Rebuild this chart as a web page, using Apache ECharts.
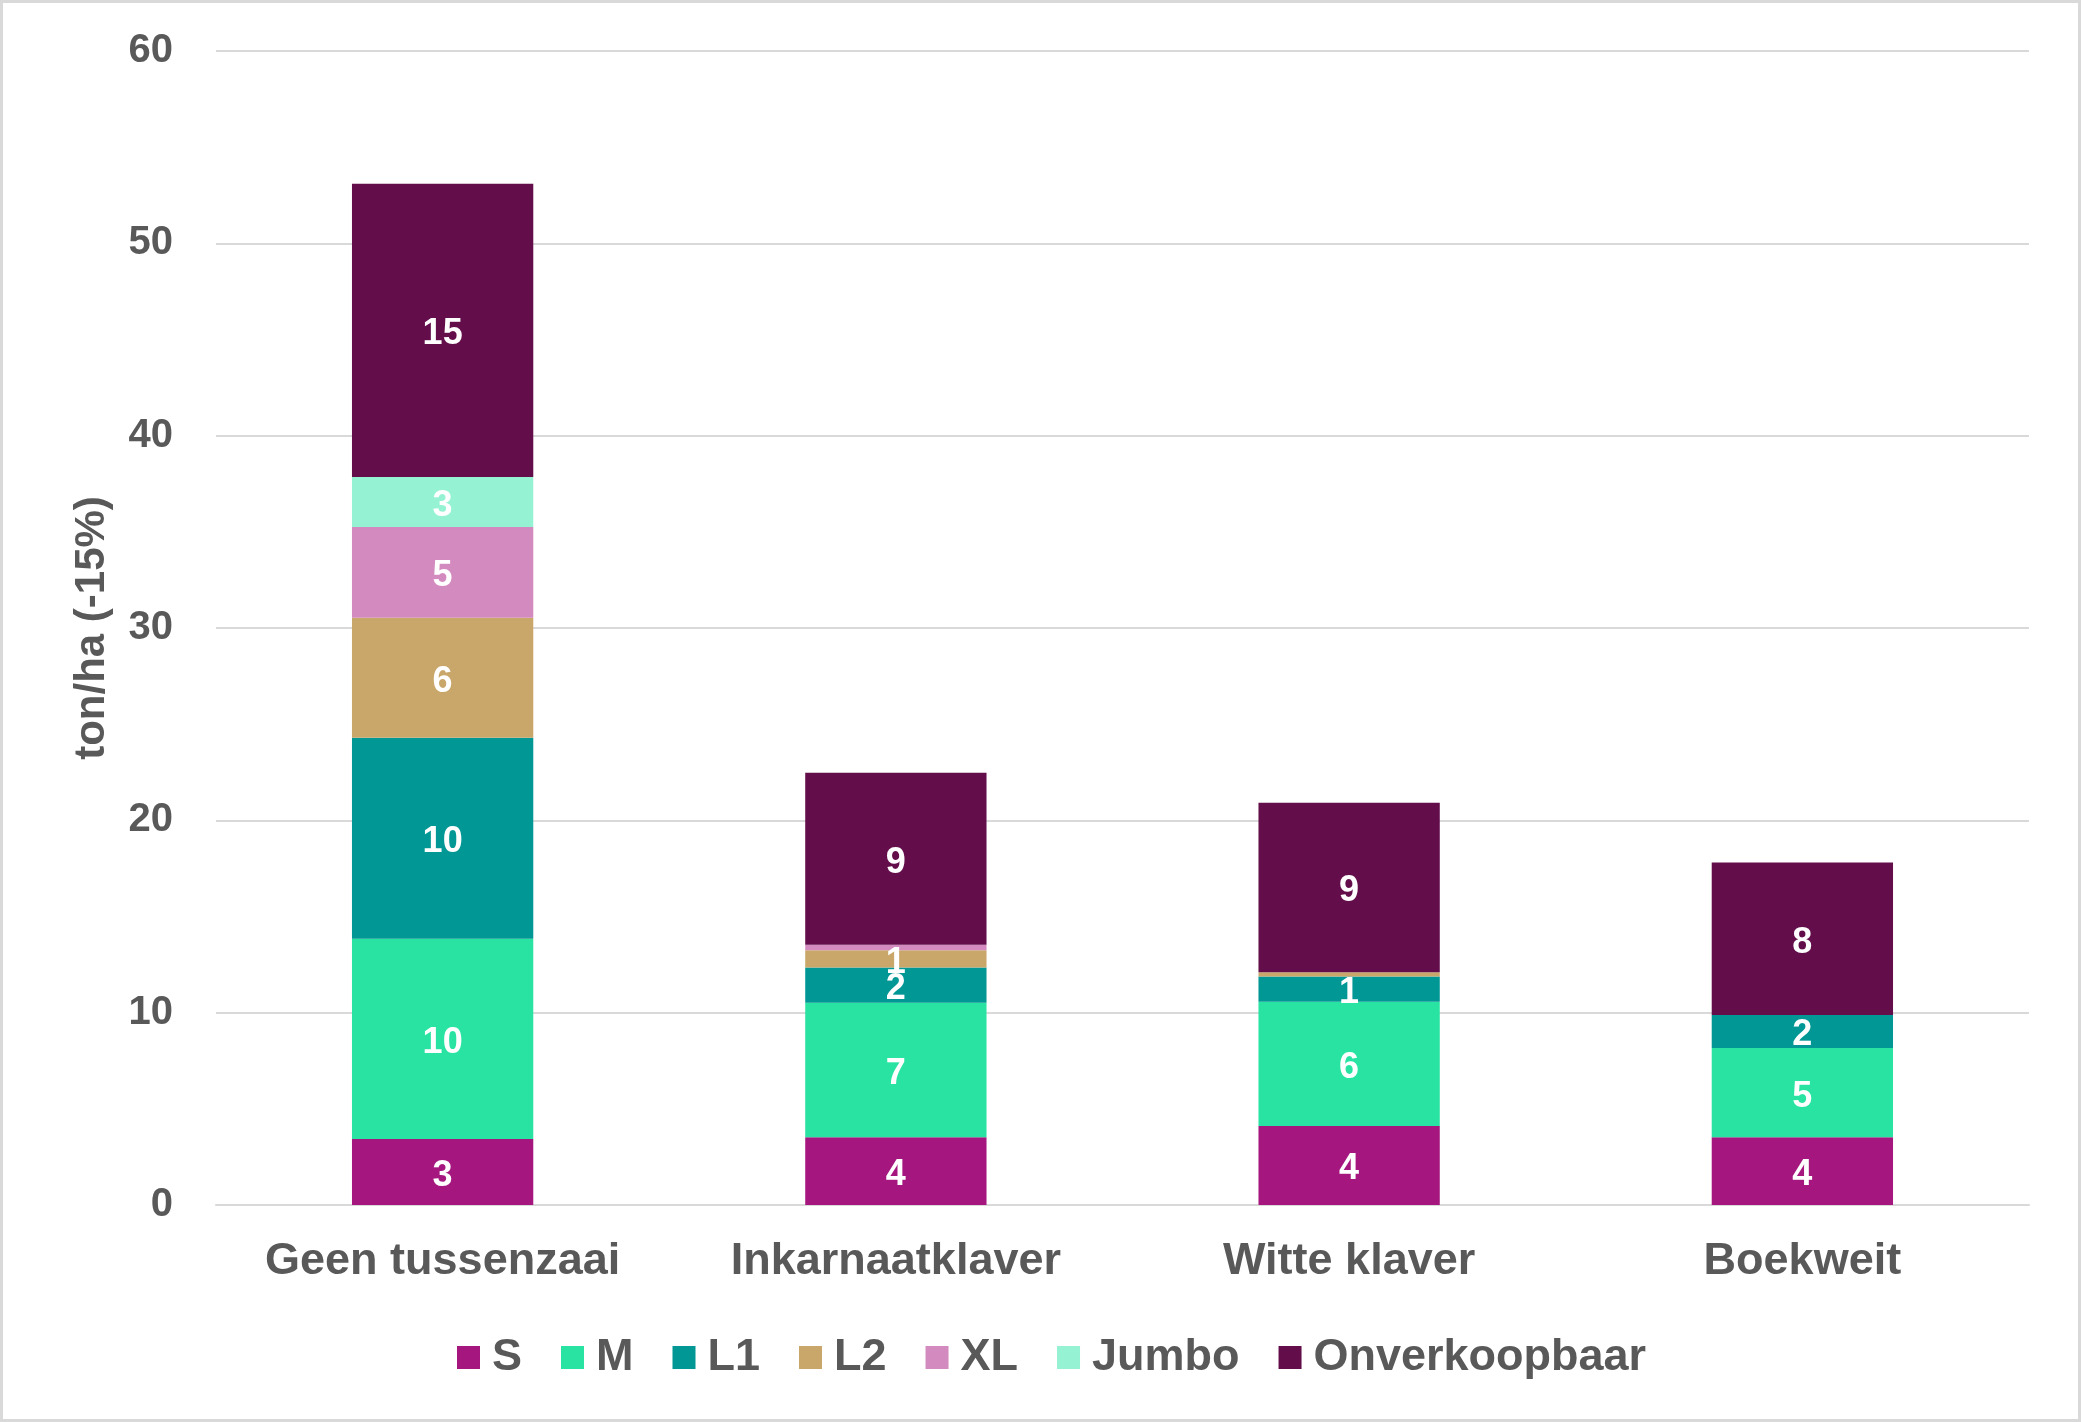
<!DOCTYPE html>
<html>
<head>
<meta charset="utf-8">
<script src="https://cdn.jsdelivr.net/npm/echarts@6/dist/echarts.min.js"></script>
<style>
html,body{margin:0;padding:0;background:#fff;}
#wrap{position:relative;width:2081px;height:1422px;}
#chart{position:absolute;left:0;top:0;width:2081px;height:1422px;}
#frame{position:absolute;left:0;top:0;width:2081px;height:1422px;box-sizing:border-box;border:3px solid #d9d9d9;pointer-events:none;}
</style>
</head>
<body>
<div id="wrap"><div id="chart"></div><div id="frame"></div></div>
<script>
const categories = ['Geen tussenzaai', 'Inkarnaatklaver', 'Witte klaver', 'Boekweit'];
const seriesNames = ['S', 'M', 'L1', 'L2', 'XL', 'Jumbo', 'Onverkoopbaar'];
const S      = [3.43, 3.52, 4.11, 3.52];
const M      = [10.41, 6.99, 6.46, 4.64];
const L1     = [10.46, 1.84, 1.31, 1.72];
const L2     = [6.23, 0.89, 0.22, 0];
const XL     = [4.72, 0.29, 0, 0];
const Jumbo  = [2.60, 0, 0, 0];
const Onverkoopbaar = [15.25, 8.94, 8.81, 7.93];
const yTicks = [0, 10, 20, 30, 40, 50, 60];
const colors = ['#A5177F', '#29E3A2', '#009795', '#C9A66A', '#D38ABF', '#95F2D3', '#630E4B'];

const seriesData = [S, M, L1, L2, XL, Jumbo, Onverkoopbaar];

const chart = echarts.init(document.getElementById('chart'), null, {renderer: 'canvas'});
const option = {
  backgroundColor: '#ffffff',
  animation: false,
  color: colors,
  grid: {left: 216, right: 52, top: 51, bottom: 217, containLabel: false},
  legend: {
    data: seriesNames,
    left: 452,
    top: 1330,
    itemWidth: 23,
    itemHeight: 23,
    itemGap: 39,
    icon: 'rect',
    textStyle: {fontFamily: 'Liberation Sans', fontWeight: 'bold', fontSize: 45, color: '#595959', padding: [0, 0, 0, 7]}
  },
  xAxis: {
    type: 'category',
    data: categories,
    axisLine: {lineStyle: {color: '#d9d9d9', width: 2}},
    axisTick: {show: false},
    axisLabel: {interval: 0, fontFamily: 'Liberation Sans', fontWeight: 'bold', fontSize: 45, color: '#595959', margin: 34}
  },
  yAxis: {
    type: 'value',
    min: yTicks[0],
    max: yTicks[yTicks.length - 1],
    interval: 10,
    name: 'ton/ha (-15%)',
    nameLocation: 'middle',
    nameGap: 103,
    nameTextStyle: {fontFamily: 'Liberation Sans', fontWeight: 'bold', fontSize: 42, color: '#595959'},
    axisLine: {show: false},
    axisTick: {show: false},
    splitLine: {lineStyle: {color: '#d9d9d9', width: 2}},
    axisLabel: {fontFamily: 'Liberation Sans', fontWeight: 'bold', fontSize: 40, color: '#595959', margin: 43}
  },
  series: seriesNames.map((name, i) => ({
    name: name,
    type: 'bar',
    stack: 'total',
    barWidth: '40%',
    data: seriesData[i],
    itemStyle: {color: colors[i]},
    label: {
      show: true,
      position: 'inside',
      offset: [0, 4],
      color: '#ffffff',
      fontFamily: 'Liberation Sans',
      fontWeight: 'bold',
      fontSize: 36,
      formatter: p => {
        const r = Math.round(p.value);
        return r === 0 ? '' : String(r);
      }
    }
  }))
};
chart.setOption(option);
</script>
</body>
</html>
